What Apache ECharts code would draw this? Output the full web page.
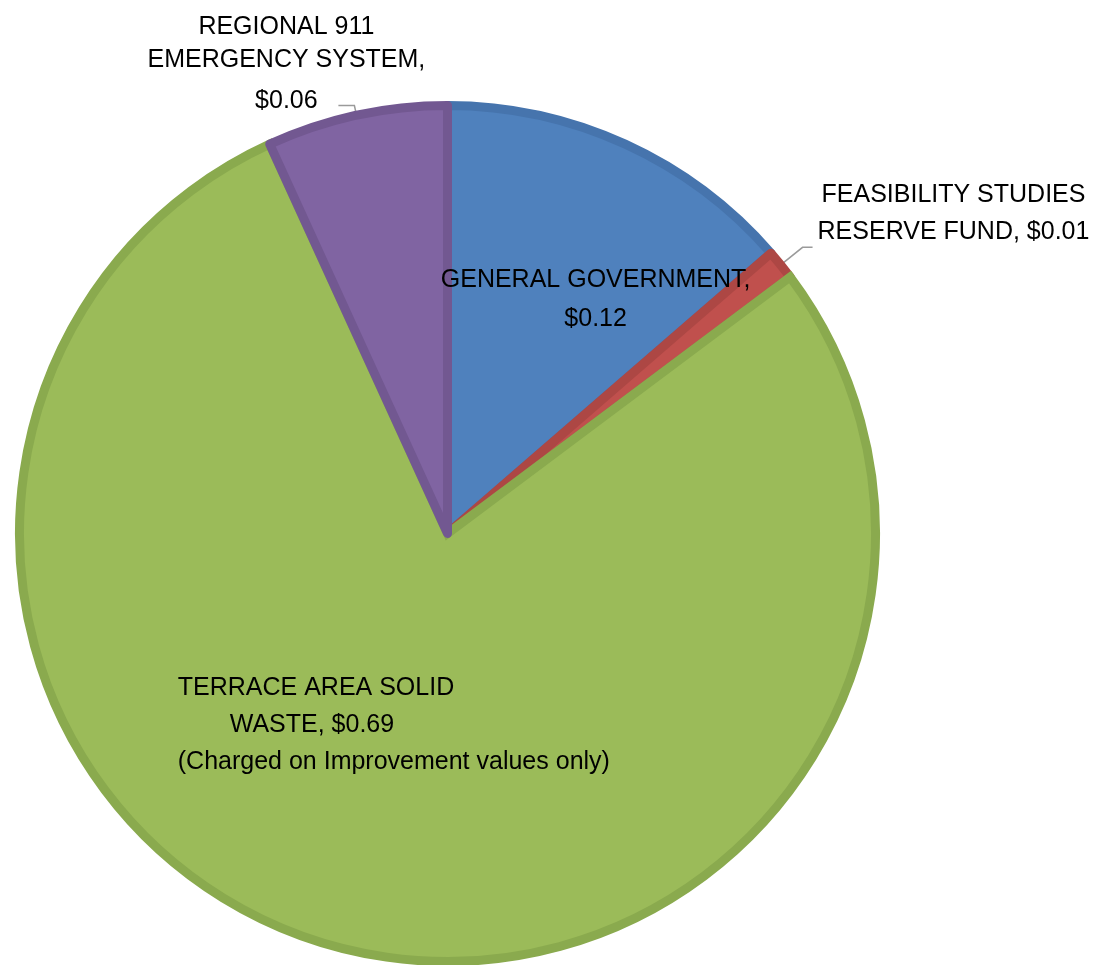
<!DOCTYPE html>
<html>
<head>
<meta charset="utf-8">
<script src="https://cdn.jsdelivr.net/npm/echarts@6/dist/echarts.min.js"></script>
<style>
  html, body { margin: 0; padding: 0; background: #ffffff; }
  #chart { width: 1107px; height: 965px; }
</style>
</head>
<body>
<div id="chart"></div>
<script>
// Levy categories and their rates (dollars)
const categories = [
  'GENERAL GOVERNMENT',
  'FEASIBILITY STUDIES RESERVE FUND',
  'TERRACE AREA SOLID WASTE',
  'REGIONAL 911 EMERGENCY SYSTEM'
];
const values = [0.12, 0.01, 0.69, 0.06];
const note = '(Charged on Improvement values only)';

// Slice fills and their darker outlines
const fills = ['#4F81BD', '#C0504D', '#9BBB59', '#8064A2'];
const edges = ['#4674AD', '#AD4744', '#8AAA4E', '#725891'];

const FONT = '"Liberation Sans", Arial, sans-serif';
const money = v => '$' + v.toFixed(2);
const txt = (extra) => Object.assign({ fontFamily: FONT, fontSize: 25, color: '#000000' }, extra);

// Per-slice label settings (layout only; text comes from the arrays above)
const labelFor = [
  {
    position: 'inside',
    offset: [58, -37],
    formatter: p => `{c|GENERAL GOVERNMENT,}\n{c|${money(p.value)}}`,
    rich: { c: txt({ align: 'center', lineHeight: 39 }) }
  },
  {
    position: 'outside',
    padding: [0, 0, 67, 0],
    formatter: p => `{c|FEASIBILITY STUDIES}\n{c|RESERVE FUND, ${money(p.value)}}`,
    rich: { c: txt({ align: 'center', lineHeight: 37 }) }
  },
  {
    position: 'inside',
    offset: [0, -19],
    formatter: p => `{l|TERRACE AREA SOLID}\n{sp|}{l|WASTE, ${money(p.value)}}\n{l|${note}}`,
    rich: {
      l: txt({ align: 'left', lineHeight: 37 }),
      sp: { width: 52, align: 'left', lineHeight: 37 }
    }
  },
  {
    position: 'outside',
    width: 94,
    overflow: 'none',
    padding: [4, 0, 78, 0],
    formatter: p => `{a|REGIONAL 911}\n{a|EMERGENCY SYSTEM,}\n{b|${money(p.value)}}`,
    rich: {
      a: txt({ align: 'center', lineHeight: 33 }),
      b: txt({ align: 'center', lineHeight: 50 })
    }
  }
];

const lineFor = [
  { show: false },
  { show: true, length: 28, length2: 10 },
  { show: false },
  { show: true, length: 10, length2: 16 }
];

const data = categories.map((name, i) => ({
  name,
  value: values[i],
  itemStyle: {
    color: fills[i],
    borderColor: edges[i],
    borderWidth: 9,
    borderJoin: i === 2 ? 'miter' : 'round'
  },
  label: Object.assign({ show: true }, labelFor[i]),
  labelLine: Object.assign({ lineStyle: { color: '#9A9A9A', width: 1.5 } }, lineFor[i])
}));

const chart = echarts.init(document.getElementById('chart'), null, { renderer: 'canvas' });
chart.setOption({
  animation: false,
  backgroundColor: '#ffffff',
  series: [{
    type: 'pie',
    center: [447.5, 533.5],
    radius: [0, 428],
    startAngle: 90,
    clockwise: true,
    avoidLabelOverlap: false,
    emphasis: { disabled: true },
    label: { distanceToLabelLine: 5 },
    data
  }]
});
</script>
</body>
</html>
